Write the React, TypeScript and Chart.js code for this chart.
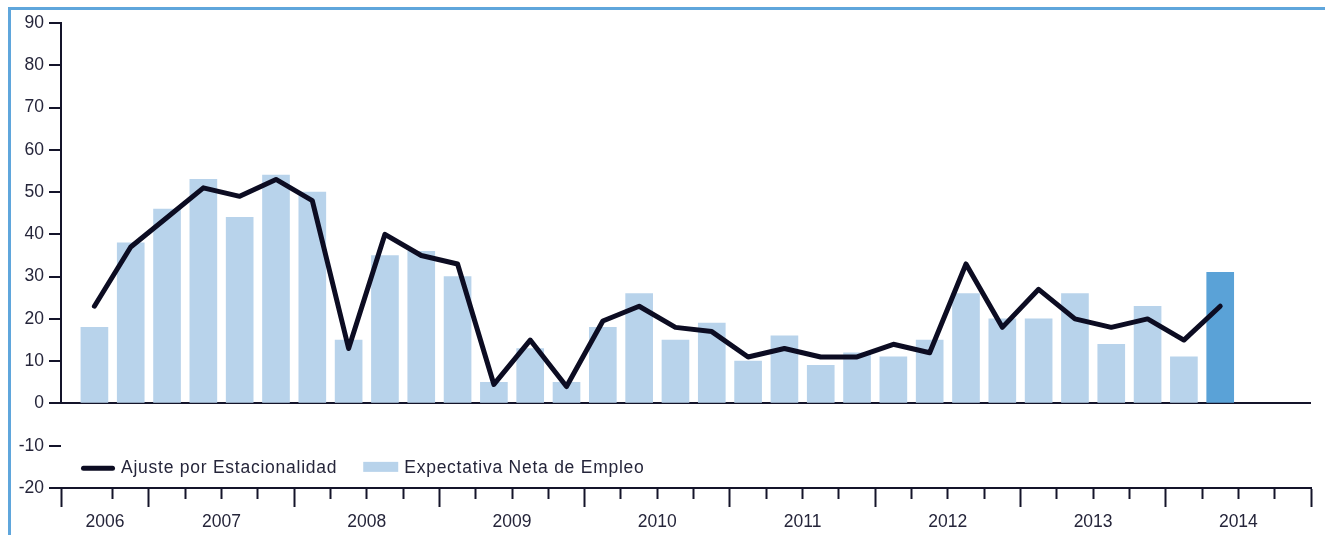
import React, { useEffect, useRef } from 'react';
import { Chart, registerables } from 'chart.js';

Chart.register(...registerables);

// ---------- DATA ----------
const quarters = [
  '2006-T3', '2006-T4',
  '2007-T1', '2007-T2', '2007-T3', '2007-T4',
  '2008-T1', '2008-T2', '2008-T3', '2008-T4',
  '2009-T1', '2009-T2', '2009-T3', '2009-T4',
  '2010-T1', '2010-T2', '2010-T3', '2010-T4',
  '2011-T1', '2011-T2', '2011-T3', '2011-T4',
  '2012-T1', '2012-T2', '2012-T3', '2012-T4',
  '2013-T1', '2013-T2', '2013-T3', '2013-T4',
  '2014-T1', '2014-T2',
];

const yearLabels = ['2006', '2007', '2008', '2009', '2010', '2011', '2012', '2013', '2014'];

// Expectativa Neta de Empleo (bars)
const expectativaNeta = [
  18, 38,
  46, 53, 44, 54,
  50, 15, 35, 36,
  30, 5, 13, 5,
  18, 26, 15, 19,
  10, 16, 9, 12,
  11, 15, 26, 20,
  20, 26, 14, 23,
  11, 31,
];

// Ajuste por Estacionalidad (line)
const ajusteEstacionalidad = [
  23, 37,
  44, 51, 49, 53,
  48, 13, 40, 35,
  33, 4.5, 15, 4,
  19.5, 23, 18, 17,
  11, 13, 11, 11,
  14, 12, 33, 18,
  27, 20, 18, 20,
  15, 23,
];

const yTickValues = [-20, -10, 0, 10, 20, 30, 40, 50, 60, 70, 80, 90];

const seriesNames = ['Ajuste por Estacionalidad', 'Expectativa Neta de Empleo'];

// ---------- STYLE / LAYOUT ----------
const FONT = '"Liberation Sans", Arial, Helvetica, sans-serif';
const TEXT_COLOR = '#25253a';
const AXIS_COLOR = '#14142a';
const LINE_COLOR = '#0c0c22';
const BAR_LIGHT = '#b8d3eb';
const BAR_DARK = '#5aa2d7';
const FRAME_COLOR = '#5fa6dc';
const HIGHLIGHT_INDEX = quarters.length - 1;

const X_MIN = -0.92;
const X_MAX = 33.5;
const LEGEND_Y_VALUE = -15;

// ---------- derived x-axis ticks ----------
const firstYear = quarters[0].slice(0, 4);
const firstChange = quarters.findIndex((q) => q.slice(0, 4) !== firstYear) - 0.5;

type XTick = { value: number; kind: 'major' | 'minor' | 'none'; label: string };
const xTicks: XTick[] = [];
xTicks.push({ value: X_MIN, kind: 'major', label: '' });
for (let b = 0.5; b <= X_MAX + 1e-9; b += 1) {
  const isMajor = Math.abs(((b - firstChange) % 4 + 4) % 4) < 1e-6;
  xTicks.push({ value: b, kind: isMajor ? 'major' : 'minor', label: '' });
}
const findTick = (v: number) => xTicks.find((t) => Math.abs(t.value - v) < 1e-6);
yearLabels.forEach((yr, j) => {
  const start = j === 0 ? X_MIN : firstChange + 4 * (j - 1);
  const end = Math.min(firstChange + 4 * j, X_MAX);
  const center = (start + end) / 2;
  const existing = findTick(center);
  if (existing) existing.label = yr;
  else xTicks.push({ value: center, kind: 'none', label: yr });
});
xTicks.sort((a, b) => a.value - b.value);

// ---------- plugins ----------
const yAxisSegmentPlugin = {
  id: 'yAxisSegment',
  afterDraw(chart: any) {
    const { ctx, chartArea, scales } = chart;
    const ys = scales.y;
    ctx.save();
    ctx.strokeStyle = AXIS_COLOR;
    ctx.lineWidth = 2;
    ctx.beginPath();
    ctx.moveTo(chartArea.left, ys.getPixelForValue(ys.max) - 1);
    ctx.lineTo(chartArea.left, ys.getPixelForValue(0));
    ctx.stroke();
    ctx.restore();
  },
};

const insideLegendPlugin = {
  id: 'insideLegend',
  afterDraw(chart: any) {
    const { ctx, chartArea, scales } = chart;
    const yc = scales.y.getPixelForValue(LEGEND_Y_VALUE);
    let x = chartArea.left + 20;
    ctx.save();
    ctx.font = `17.5px ${FONT}`;
    if ('letterSpacing' in ctx) (ctx as any).letterSpacing = '0.75px';
    ctx.textBaseline = 'alphabetic';
    ctx.textAlign = 'left';
    const ordered = [...chart.data.datasets].sort((a: any, b: any) => (a.order ?? 0) - (b.order ?? 0));
    ordered.forEach((ds: any) => {
      let symW = 34;
      if (ds.type === 'line') {
        ctx.strokeStyle = ds.borderColor;
        ctx.lineWidth = 5;
        ctx.lineCap = 'round';
        ctx.beginPath();
        ctx.moveTo(x + 2.5, yc + 1.3);
        ctx.lineTo(x + symW - 2.5, yc + 1.3);
        ctx.stroke();
      } else {
        symW = 35;
        ctx.fillStyle = Array.isArray(ds.backgroundColor) ? ds.backgroundColor[0] : ds.backgroundColor;
        ctx.fillRect(x, yc - 5, symW, 10);
      }
      const tx = x + symW + 6;
      ctx.fillStyle = TEXT_COLOR;
      ctx.fillText(ds.label, tx, yc + 6.3);
      x = tx + ctx.measureText(ds.label).width + 26;
    });
    ctx.restore();
  },
};

export default function App() {
  const canvasRef = useRef<HTMLCanvasElement | null>(null);

  useEffect(() => {
    if (!canvasRef.current) return;
    const chart = new Chart(canvasRef.current, {
      type: 'bar',
      data: {
        datasets: [
          {
            type: 'line',
            label: seriesNames[0],
            data: quarters.map((_, i) => ({ x: i, y: ajusteEstacionalidad[i] })),
            borderColor: LINE_COLOR,
            borderWidth: 5,
            pointRadius: 0,
            tension: 0,
            borderJoinStyle: 'round',
            borderCapStyle: 'round',
            order: 0,
          } as any,
          {
            type: 'bar',
            label: seriesNames[1],
            data: quarters.map((_, i) => ({ x: i, y: expectativaNeta[i] })),
            backgroundColor: quarters.map((_, i) => (i === HIGHLIGHT_INDEX ? BAR_DARK : BAR_LIGHT)),
            borderWidth: 0,
            barThickness: 27,
            order: 1,
          } as any,
        ],
      },
      options: {
        responsive: false,
        animation: false,
        events: [],
        devicePixelRatio: 1,
        layout: { padding: { left: 0, top: 23, right: 14, bottom: 0 } },
        plugins: {
          legend: { display: false },
          tooltip: { enabled: false },
          title: { display: false },
        },
        scales: {
          x: {
            type: 'linear',
            min: X_MIN,
            max: X_MAX,
            offset: false,
            afterBuildTicks: (scale: any) => {
              scale.ticks = xTicks.map((t) => ({ value: t.value }));
            },
            afterFit: (scale: any) => {
              scale.height = 47;
            },
            border: { display: true, color: AXIS_COLOR, width: 2 },
            grid: {
              offset: false,
              drawOnChartArea: false,
              drawTicks: true,
              tickLength: 19,
              tickWidth: 2,
              tickColor: (c: any) => {
                const t = c.tick ? findTick(c.tick.value) : undefined;
                return t && t.kind !== 'none' ? AXIS_COLOR : 'rgba(0,0,0,0)';
              },
              tickBorderDash: (c: any) => {
                const t = c.tick ? findTick(c.tick.value) : undefined;
                return t && t.kind === 'minor' ? [10, 60] : [];
              },
            },
            ticks: {
              autoSkip: false,
              maxRotation: 0,
              minRotation: 0,
              padding: 5,
              color: TEXT_COLOR,
              font: { family: FONT, size: 17.5 },
              callback: (value: any) => {
                const t = findTick(Number(value));
                return t ? t.label : '';
              },
            },
          },
          y: {
            type: 'linear',
            min: yTickValues[0],
            max: yTickValues[yTickValues.length - 1],
            afterBuildTicks: (scale: any) => {
              scale.ticks = yTickValues.map((v) => ({ value: v }));
            },
            afterFit: (scale: any) => {
              scale.width = 61;
            },
            border: { display: false },
            grid: {
              drawOnChartArea: true,
              drawTicks: true,
              tickLength: 12,
              tickWidth: 2,
              tickColor: AXIS_COLOR,
              lineWidth: 2,
              color: (c: any) => (c.tick && c.tick.value === 0 ? AXIS_COLOR : 'rgba(0,0,0,0)'),
            },
            ticks: {
              padding: 5,
              color: TEXT_COLOR,
              font: { family: FONT, size: 17.5 },
              callback: (value: any) => String(value),
            },
          },
        },
      } as any,
      plugins: [yAxisSegmentPlugin, insideLegendPlugin],
    });
    return () => chart.destroy();
  }, []);

  return (
    <div style={{ position: 'absolute', left: 0, top: 0, width: 1325, height: 535, background: '#ffffff', overflow: 'hidden' }}>
      <div
        style={{
          position: 'absolute',
          left: 8,
          top: 7,
          right: 0,
          bottom: 0,
          borderLeft: `3px solid ${FRAME_COLOR}`,
          borderTop: `3px solid ${FRAME_COLOR}`,
        }}
      />
      <canvas
        ref={canvasRef}
        width={1325}
        height={535}
        style={{ position: 'absolute', left: 0, top: 0, display: 'block' }}
      />
    </div>
  );
}
